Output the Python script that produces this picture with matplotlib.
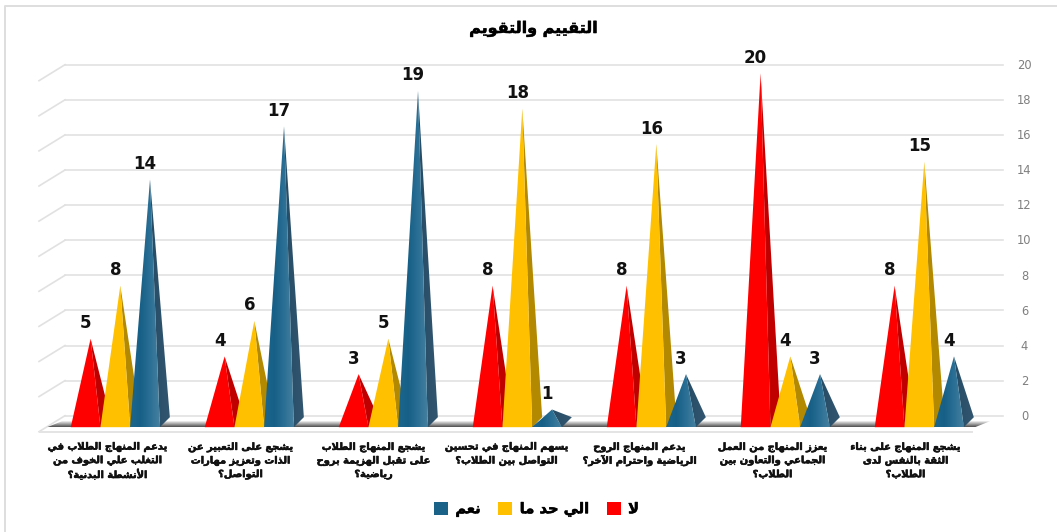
import matplotlib
matplotlib.use("Agg")
import matplotlib.pyplot as plt
import matplotlib.patheffects as pe
from matplotlib.colors import LinearSegmentedColormap
from matplotlib.patches import Polygon, Patch
import numpy as np

TITLE = "التقييم والتقويم"
SERIES_NAMES = ["لا", "الي حد ما", "نعم"]
QUESTIONS = [
    ["يدعم المنهاج الطلاب في", "التغلب علي الخوف من", "الأنشطة البدنية؟"],
    ["يشجع على التعبير عن", "الذات وتعزيز مهارات", "التواصل؟"],
    ["يشجع المنهاج الطلاب", "على تقبل الهزيمة بروح", "رياضية؟"],
    ["يسهم المنهاج في تحسين", "التواصل بين الطلاب؟"],
    ["يدعم المنهاج الروح", "الرياضية واحترام الآخر؟"],
    ["يعزز المنهاج من العمل", "الجماعي والتعاون بين", "الطلاب؟"],
    ["يشجع المنهاج على بناء", "الثقة بالنفس لدى", "الطلاب؟"],
]
no_vals = [5, 4, 3, 8, 8, 20, 8]
some_vals = [8, 6, 5, 18, 16, 4, 15]
yes_vals = [14, 17, 19, 1, 3, 3, 4]
y_ticks = list(range(0, 21, 2))

# matplotlib does not join Arabic letters, so pick the presentation forms by hand
RIGHT_JOIN = {"آ": 0xFE81, "أ": 0xFE83, "ؤ": 0xFE85, "إ": 0xFE87, "ا": 0xFE8D, "ة": 0xFE93,
              "د": 0xFEA9, "ذ": 0xFEAB, "ر": 0xFEAD, "ز": 0xFEAF, "و": 0xFEED, "ى": 0xFEEF}
DUAL_JOIN = {"ئ": 0xFE89, "ب": 0xFE8F, "ت": 0xFE95, "ث": 0xFE99, "ج": 0xFE9D, "ح": 0xFEA1,
             "خ": 0xFEA5, "س": 0xFEB1, "ش": 0xFEB5, "ص": 0xFEB9, "ض": 0xFEBD, "ط": 0xFEC1,
             "ظ": 0xFEC5, "ع": 0xFEC9, "غ": 0xFECD, "ف": 0xFED1, "ق": 0xFED5, "ك": 0xFED9,
             "ل": 0xFEDD, "م": 0xFEE1, "ن": 0xFEE5, "ه": 0xFEE9, "ي": 0xFEF1}
LAM_ALEF = {"آ": 0xFEF5, "أ": 0xFEF7, "إ": 0xFEF9, "ا": 0xFEFB}


def shape(text):
    out = []
    joined = False
    i = 0
    while i < len(text):
        c = text[i]
        if c == "ل" and i + 1 < len(text) and text[i + 1] in LAM_ALEF:
            out.append(chr(LAM_ALEF[text[i + 1]] + (1 if joined else 0)))
            joined = False
            i += 2
        elif c in DUAL_JOIN:
            nxt = text[i + 1] if i + 1 < len(text) else ""
            next_joins = nxt in DUAL_JOIN or nxt in RIGHT_JOIN
            form = (3 if next_joins else 1) if joined else (2 if next_joins else 0)
            out.append(chr(DUAL_JOIN[c] + form))
            joined = next_joins
            i += 1
        elif c in RIGHT_JOIN:
            out.append(chr(RIGHT_JOIN[c] + (1 if joined else 0)))
            joined = False
            i += 1
        else:
            out.append(c)
            joined = False
            i += 1
    return "".join(reversed(out))


W, H = 1057, 532
fig = plt.figure(figsize=(W / 100, H / 100), dpi=100)
ax = fig.add_axes([0, 0, 1, 1])

# scale: one x unit is a group (134 px), one y unit a value on the back wall (17.55 px)
PX = 1 / 134
PY = 1 / 17.55
xlim = (-115.3 * PX, (W - 115.3) * PX)
ylim = ((415.7 - H) * PY, 415.7 * PY)


def xp(px):
    return (px - 115.3) * PX


def yp(py):
    return (415.7 - py) * PY


BAR_W = 29.7 * PX
DEPTH_X = 10 * PX
DEPTH_Y = 10 * PY
FRONT_Y = -11.5 * PY
SCALE = 17.7 / 17.55

blue_map = LinearSegmentedColormap.from_list("b", ["#1C668E", "#175F86", "#2A6F94", "#457F9F"])
floor_map = LinearSegmentedColormap.from_list("f", ["#EDEDED", "#A0A0A0", "#4F4F4F"])
blue_side = LinearSegmentedColormap.from_list("bs", ["#264C66", "#33566F"])
heavy = [pe.withStroke(linewidth=0.4, foreground="#111111")]

# outer border, only top and left show in the original
ax.plot([xp(5), xp(5), xp(W)], [yp(H), yp(6), yp(6)], color="#DEDEDE", lw=1.4, zorder=1)

# back wall and left wall grid
for v in y_ticks:
    ax.plot([xp(65), xp(1003)], [v, v], color="#E1E1E1", lw=1.2, zorder=1)
    ax.plot([xp(65), xp(39)], [v, v - 16 * PY], color="#E1E1E1", lw=1.2, zorder=1)
    ax.text(xp(1024.5), v + 0.04, str(v), color="#7F7F7F", fontsize=8.3,
            family="DejaVu Sans", ha="center", va="center_baseline", zorder=2)

# floor
floor_top = -5.5 * PY
floor = Polygon([(xp(47), FRONT_Y), (xp(975), FRONT_Y), (xp(990), floor_top), (xp(62), floor_top)],
                closed=True, fc="none", ec="none")
ax.add_patch(floor)
im = ax.imshow(np.linspace(0, 1, 32).reshape(-1, 1), cmap=floor_map, aspect="auto", zorder=2,
               extent=(xp(47), xp(990), FRONT_Y, floor_top), origin="upper")
im.set_clip_path(floor)
ax.plot([xp(40), xp(972)], [FRONT_Y - 4.5 * PY] * 2, color="#E4E4E4", lw=1.4, zorder=2)

zo = 3
colors = [("#FF0000", "#C00000"), ("#FFC000", "#B38900"), (None, None)]
offsets = [-BAR_W, 0, BAR_W]
for i in range(len(QUESTIONS)):
    for s, vals in enumerate([no_vals, some_vals, yes_vals]):
        c = i + offsets[s]
        left, right = c - BAR_W / 2, c + BAR_W / 2
        apex = (c + DEPTH_X / 2, FRONT_Y + vals[i] * SCALE)
        side_pts = [(right, FRONT_Y), (right + DEPTH_X, FRONT_Y + DEPTH_Y), apex]
        front_pts = [(left, FRONT_Y), (right, FRONT_Y), apex]
        if s < 2:
            ax.add_patch(Polygon(side_pts, closed=True, fc=colors[s][1], ec="none", zorder=zo))
            ax.add_patch(Polygon(front_pts, closed=True, fc=colors[s][0], ec="none", zorder=zo + 1))
        else:
            # gradient shading on the blue faces, clipped to each triangle
            for pts, cm, x_a, x_b in [(side_pts, blue_side, apex[0], right + DEPTH_X),
                                      (front_pts, blue_map, left, right)]:
                clip = Polygon(pts, closed=True, fc="none", ec="none")
                ax.add_patch(clip)
                g = ax.imshow(np.linspace(0, 1, 32).reshape(1, -1), cmap=cm, aspect="auto",
                              extent=(x_a, x_b, FRONT_Y, apex[1]), zorder=zo, interpolation="bilinear")
                g.set_clip_path(clip)
        ax.text(c, apex[1] + 15.5 * PY, str(vals[i]), fontsize=12, fontweight="bold",
                family="DejaVu Sans", color="#111111", ha="center", va="center", zorder=10)
        zo += 2

# question labels
for i, q in enumerate(QUESTIONS):
    lab_x = xp(107.5 + i * 133)
    for j, line in enumerate(q):
        ax.text(lab_x, yp(447 + j * 13.6), shape(line), fontsize=7.1, fontweight="bold",
                family="DejaVu Sans", color="#111111", ha="center", va="center", path_effects=heavy)

ax.text(xp(534), yp(29), shape(TITLE), fontsize=11.5, fontweight="bold",
        family="DejaVu Sans", color="black", ha="center", va="center", path_effects=heavy)

handles = [Patch(fc="#FF0000"), Patch(fc="#FFC000"), Patch(fc="#1B6288")]
# legend reads right to left in the original, so the order is reversed here
leg = ax.legend(handles[::-1], [shape(n) for n in SERIES_NAMES[::-1]], ncol=3, frameon=False,
                loc="center", bbox_to_anchor=(536.5 / W, 1 - 509 / H), handlelength=0.95, handleheight=0.95,
                handletextpad=0.5, columnspacing=1.2, prop={"family": "DejaVu Sans", "weight": "bold", "size": 10.6})
for t in leg.get_texts():
    t.set_path_effects(heavy)

ax.set_xlim(*xlim)
ax.set_ylim(*ylim)
ax.axis("off")
fig.savefig("out.png", dpi=100)
